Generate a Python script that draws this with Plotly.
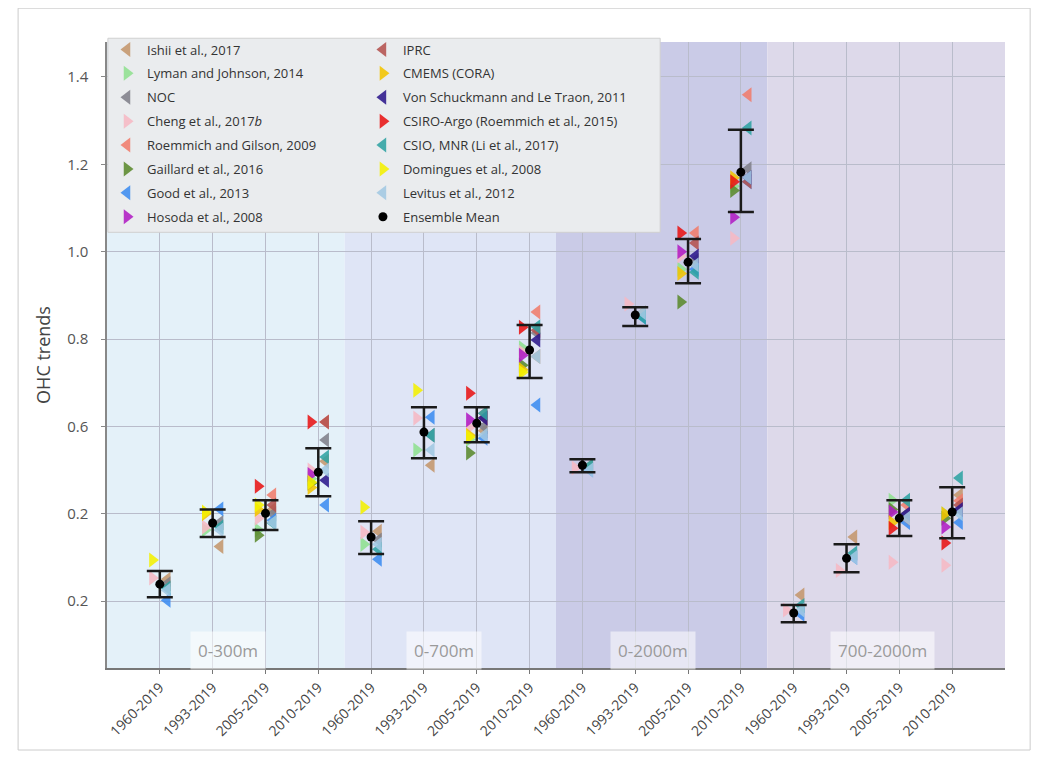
import plotly.graph_objects as go

# ---- data ----
periods = ["1960-2019", "1993-2019", "2005-2019", "2010-2019"]
layers = ["0-300m", "0-700m", "0-2000m", "700-2000m"]
tick_labels = periods * 4
y_tick_vals = [0.2, 0.4, 0.6, 0.8, 1.0, 1.2, 1.4]
y_tick_text = ["0.2", "0.2", "0.6", "0.8", "1.0", "1.2", "1.4"]

N = None
ishii      = [0.25, 0.325, 0.41, 0.52, 0.36, 0.511, 0.59, 0.76, 0.51, 0.86, 0.97, 1.17, 0.214, 0.347, 0.40, 0.443]
lyman      = [N, 0.363, 0.363, 0.48, 0.33, 0.546, 0.57, 0.78, N, N, 0.96, 1.15, N, N, 0.431, 0.40]
noc        = [0.24, 0.38, 0.40, 0.569, 0.34, 0.58, 0.60, 0.814, N, N, 0.98, 1.19, N, N, 0.40, 0.41]
cheng      = [0.253, 0.37, 0.39, 0.50, 0.358, 0.619, 0.598, 0.77, 0.505, 0.88, 0.99, 1.031, 0.18, 0.27, 0.289, 0.282]
roemmich09 = [N, N, 0.443, 0.61, N, N, 0.63, 0.862, N, N, 1.043, 1.359, N, N, 0.42, 0.43]
gaillard   = [N, N, 0.351, 0.47, N, N, 0.539, 0.74, N, N, 0.885, 1.14, N, N, 0.41, 0.39]
good       = [0.202, 0.411, 0.385, 0.42, 0.296, 0.621, 0.573, 0.649, 0.50, 0.85, 0.96, 1.16, 0.17, 0.30, 0.38, 0.38]
hosoda     = [N, N, N, 0.49, N, N, 0.615, 0.763, N, N, 1.0, 1.079, N, N, 0.404, 0.37]
iprc       = [N, N, 0.42, 0.61, N, N, 0.62, 0.82, N, N, 1.02, 1.16, N, N, 0.39, 0.42]
cmems      = [N, 0.40, 0.41, 0.46, N, N, 0.58, 0.73, N, N, 0.95, 1.169, N, N, 0.38, 0.40]
vonschuck  = [N, N, N, 0.477, N, N, 0.619, 0.798, N, N, 0.99, 1.17, N, N, 0.40, 0.41]
csiro_argo = [N, N, 0.463, 0.61, N, N, 0.676, 0.827, N, N, 1.043, 1.16, N, N, 0.367, 0.333]
csio       = [0.23, 0.37, 0.379, 0.53, 0.319, 0.58, 0.63, 0.828, 0.51, 0.85, 0.953, 1.283, 0.19, 0.31, 0.431, 0.482]
domingues  = [0.294, 0.404, 0.42, 0.472, 0.415, 0.683, 0.576, 0.724, N, N, N, N, N, N, N, N]
levitus    = [0.225, 0.363, 0.38, 0.50, 0.33, 0.546, 0.58, 0.76, 0.50, 0.86, 0.97, 1.17, 0.18, 0.30, 0.39, 0.40]

ens_mean  = [0.239, 0.379, 0.401, 0.495, 0.347, 0.587, 0.607, 0.775, 0.511, 0.855, 0.976, 1.182, 0.173, 0.298, 0.39, 0.404]
ens_upper = [0.269, 0.41, 0.431, 0.55, 0.383, 0.644, 0.644, 0.832, 0.525, 0.873, 1.029, 1.279, 0.191, 0.33, 0.431, 0.461]
ens_lower = [0.209, 0.347, 0.363, 0.44, 0.308, 0.527, 0.564, 0.711, 0.495, 0.83, 0.928, 1.091, 0.152, 0.266, 0.349, 0.344]

products_col1 = [
    ("Ishii et al., 2017", ishii, "#c4966c", "triangle-left"),
    ("Lyman and Johnson, 2014", lyman, "#8fe08f", "triangle-right"),
    ("NOC", noc, "#7f7f8a", "triangle-left"),
    ("Cheng et al., 2017<i>b</i>", cheng, "#f6b8c4", "triangle-right"),
    ("Roemmich and Gilson, 2009", roemmich09, "#f07c6c", "triangle-left"),
    ("Gaillard et al., 2016", gaillard, "#5b8a2e", "triangle-right"),
    ("Good et al., 2013", good, "#3c8cf0", "triangle-left"),
    ("Hosoda et al., 2008", hosoda, "#b01cc4", "triangle-right"),
]
products_col2 = [
    ("IPRC", iprc, "#b4524e", "triangle-left"),
    ("CMEMS (CORA)", cmems, "#f2c400", "triangle-right"),
    ("Von Schuckmann and Le Traon, 2011", vonschuck, "#2c188c", "triangle-left"),
    ("CSIRO-Argo (Roemmich et al., 2015)", csiro_argo, "#e81414", "triangle-right"),
    ("CSIO, MNR (Li et al., 2017)", csio, "#2fa3a3", "triangle-left"),
    ("Domingues et al., 2008", domingues, "#f4f000", "triangle-right"),
    ("Levitus et al., 2012", levitus, "#a2c8e2", "triangle-left"),
]

x_idx = list(range(len(tick_labels)))
offset = {"triangle-left": 0.14, "triangle-right": -0.14}

fig = go.Figure()

shade_colors = ["#e4f1f9", "#dfe5f6", "#cacbe7", "#ddd9ea"]
for i, c in enumerate(shade_colors):
    x0 = -1 if i == 0 else 4 * i - 0.5
    x1 = 16 if i == 3 else 4 * i + 3.5
    fig.add_shape(type="rect", xref="x", yref="paper", x0=x0, x1=x1, y0=0, y1=1,
                  fillcolor=c, line_width=0, layer="below")

def add_products(plist, legend):
    for name, vals, col, sym in plist:
        fig.add_trace(go.Scatter(
            x=[i + offset[sym] for i in x_idx], y=vals, mode="markers", name=name,
            marker=dict(symbol=sym, size=13, color=col, opacity=0.88, line_width=0),
            legend=legend, legendgroup=name,
        ))

add_products(products_col1, "legend")
add_products(products_col2, "legend2")

fig.add_trace(go.Scatter(
    x=x_idx, y=ens_mean, mode="markers", name="Ensemble Mean",
    marker=dict(symbol="circle", size=9, color="black"),
    error_y=dict(type="data", symmetric=False,
                 array=[u - m for u, m in zip(ens_upper, ens_mean)],
                 arrayminus=[m - l for m, l in zip(ens_mean, ens_lower)],
                 color="#1a1a1a", thickness=2.5, width=13),
    legend="legend2", legendgroup="ens",
))

fig.add_shape(type="rect", xref="paper", yref="paper", x0=0.001, x1=0.616, y0=0.696, y1=1.006,
              fillcolor="#eaecee", line=dict(color="#d0d0d0", width=1), layer="above")

label_x = [1.3, 5.38, 9.34, 13.68]
for lx, lab in zip(label_x, layers):
    fig.add_annotation(x=lx, y=0.088, xref="x", yref="y", text=lab, showarrow=False,
                       font=dict(size=17, color="#9a9a9a", family="Open Sans"),
                       bgcolor="rgba(255,255,255,0.55)", borderpad=7)

leg_common = dict(bgcolor="rgba(0,0,0,0)", borderwidth=0, yanchor="top", xanchor="left",
                  font=dict(size=13, color="#333", family="Open Sans"),
                  tracegroupgap=4, itemwidth=30, traceorder="grouped")

fig.update_layout(
    width=1033, height=763,
    margin=dict(l=99, r=36, t=34, b=103),
    paper_bgcolor="white", plot_bgcolor="white",
    font=dict(family="Open Sans", color="#444"),
    showlegend=True,
    legend=dict(x=0.0, y=1.012, **leg_common),
    legend2=dict(x=0.285, y=1.012, **leg_common),
    xaxis=dict(range=[-1, 16], tickmode="array", tickvals=x_idx, ticktext=tick_labels,
               tickangle=-45, tickfont=dict(size=14, color="#444"),
               showgrid=True, gridcolor="#b9bccb", gridwidth=1, zeroline=False,
               showline=True, linecolor="#777", linewidth=1.5, ticks="outside", ticklen=4,
               tickcolor="#777"),
    yaxis=dict(range=[0.047, 1.48], tickmode="array", tickvals=y_tick_vals, ticktext=y_tick_text,
               tickfont=dict(size=15, color="#555"), showgrid=True, gridcolor="#b9bccb",
               gridwidth=1, zeroline=False, showline=True, linecolor="#888", linewidth=1.5,
               ticks="outside", ticklen=4, tickcolor="#888", ticklabelstandoff=10,
               title=dict(text="OHC trends", font=dict(size=18, color="#444"), standoff=12)),
)

fig.add_shape(type="rect", xref="paper", yref="paper", x0=-0.099, x1=1.028, y0=-0.131, y1=1.054,
              line=dict(color="#cccccc", width=1), fillcolor="rgba(0,0,0,0)", layer="below")

fig.write_html("out.html")
